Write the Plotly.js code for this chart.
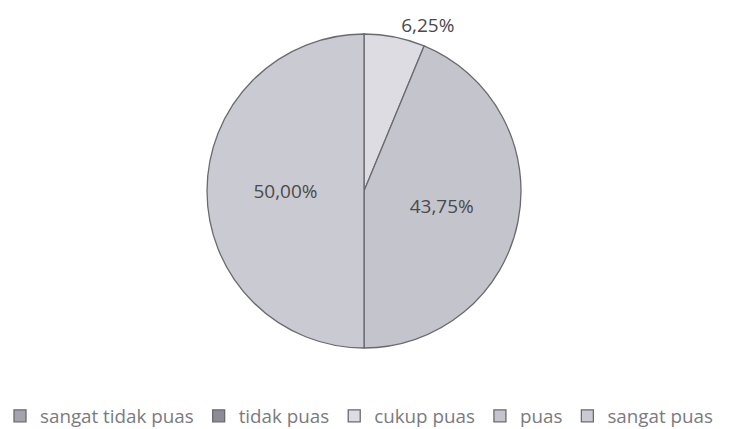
<!DOCTYPE html>
<html>
<head>
<meta charset="utf-8">
<script src="https://cdn.plot.ly/plotly-3.0.1.min.js"></script>
<style>html,body{margin:0;padding:0;background:#fff;}#chart{width:733px;height:429px;}</style>
</head>
<body>
<div id="chart"></div>
<script>
const categories = ["sangat tidak puas", "tidak puas", "cukup puas", "puas", "sangat puas"];
const values = [0, 0, 6.25, 43.75, 50.00];
const sliceColors = ["#a4a4ac", "#8c8c94", "#dcdce2", "#c4c4cc", "#cacad2"];
const textPositions = ["inside", "inside", "outside", "inside", "inside"];

const trace = {
  type: "pie",
  labels: categories,
  values: values,
  sort: false,
  direction: "clockwise",
  rotation: 0,
  marker: {colors: sliceColors, line: {color: "#6a6a70", width: 1.3}},
  texttemplate: "%{percent:.2%}",
  textposition: textPositions,
  insidetextorientation: "horizontal",
  textfont: {family: "Open Sans", size: 19, color: "#4a4a4a"},
  outsidetextfont: {family: "Open Sans", size: 19, color: "#4a4a4a"},
  domain: {x: [0.2824, 0.7108], y: [0.1888, 0.9207]},
  hoverinfo: "none"
};

const layout = {
  width: 733, height: 429,
  margin: {l: 0, r: 0, t: 0, b: 0, autoexpand: false},
  paper_bgcolor: "#ffffff",
  separators: ",.",
  showlegend: true,
  legend: {
    orientation: "h", x: 0, xanchor: "left", y: 0.03, yanchor: "middle",
    font: {family: "Open Sans", size: 18.8, color: "#7a7a80"},
    traceorder: "normal"
  }
};

Plotly.newPlot("chart", [trace], layout, {displayModeBar: false, staticPlot: true});
</script>
</body>
</html>
